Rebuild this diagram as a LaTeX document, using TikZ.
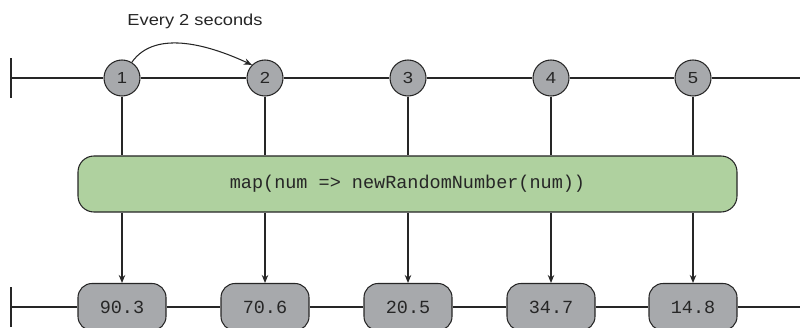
\documentclass[tikz,border=0pt]{standalone}
\usepackage{fontspec}
\setmainfont{Liberation Sans}[FakeStretch=1.15]
\setmonofont{Liberation Mono}
\usepackage{tikz}
\usetikzlibrary{arrows.meta,calc,positioning}
\definecolor{MapGreen}{HTML}{AFD19F}
\definecolor{MarbleGray}{HTML}{A7A9AC}
\definecolor{Ink}{HTML}{262626}

\begin{document}
\begin{tikzpicture}[>={Stealth[length=8pt,width=6.5pt]}, x=1pt, y=1pt, line width=1.05pt, color=Ink,
    marble/.style={circle, draw=Ink, fill=MarbleGray, minimum size=36pt, inner sep=0pt, font=\fontsize{16}{16}\selectfont},
    result/.style={draw=Ink, fill=MarbleGray, rounded corners=14pt, minimum width=88pt, minimum height=47pt, inner sep=0pt, font=\ttfamily\fontsize{18.5}{18.5}\selectfont},
    operator/.style={draw=Ink, fill=MapGreen, rounded corners=16pt, minimum width=659pt, minimum height=56pt, inner sep=0pt, font=\ttfamily\fontsize{18.5}{18.5}\selectfont}]
    \useasboundingbox (0,0) rectangle (800,327);

    % Input stream
    \coordinate (inStart) at (11,249);
    \coordinate (inEnd) at (800,249);
    \draw (11,229) -- (11,269);
    \node[marble] (c1) at (122,249) {1};
    \node[marble] (c2) at (265,249) {2};
    \node[marble] (c3) at (408,249) {3};
    \node[marble] (c4) at (551,249) {4};
    \node[marble] (c5) at (693,249) {5};
    \draw (inStart) -- (c1) (c1) -- (c2) (c2) -- (c3) (c3) -- (c4) (c4) -- (c5) (c5) -- (inEnd);

    % Interval
    \node[anchor=base, font=\fontsize{15.9}{16}\selectfont] (every) at (195,301.3) {Every 2 seconds};
    \draw[->] (c1.58) to[out=55, in=155, looseness=0.9] (c2.135);

    % Operator
    \node[operator] (map) at (407.5,143) {map(num => newRandomNumber(num))};
    \draw (c1) -- (c1 |- map.north);
    \draw (c2) -- (c2 |- map.north);
    \draw (c3) -- (c3 |- map.north);
    \draw (c4) -- (c4 |- map.north);
    \draw (c5) -- (c5 |- map.north);

    % Output stream
    \coordinate (outStart) at (11,20);
    \coordinate (outEnd) at (800,20);
    \draw (11,0) -- (11,40);
    \node[result] (r1) at (122,20) {90.3};
    \node[result] (r2) at (265,20) {70.6};
    \node[result] (r3) at (408,20) {20.5};
    \node[result] (r4) at (551,20) {34.7};
    \node[result] (r5) at (693,20) {14.8};
    \draw (outStart) -- (r1) (r1) -- (r2) (r2) -- (r3) (r3) -- (r4) (r4) -- (r5) (r5) -- (outEnd);

    % Mapping arrows
    \draw[->] (c1 |- map.south) -- (r1);
    \draw[->] (c2 |- map.south) -- (r2);
    \draw[->] (c3 |- map.south) -- (r3);
    \draw[->] (c4 |- map.south) -- (r4);
    \draw[->] (c5 |- map.south) -- (r5);
\end{tikzpicture}
\end{document}
